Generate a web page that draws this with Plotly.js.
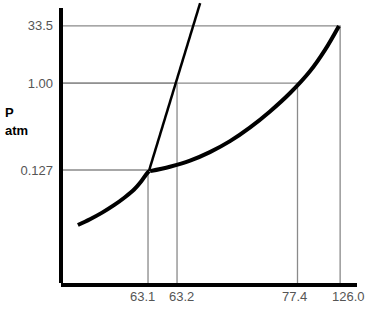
<!DOCTYPE html>
<html>
<head>
<meta charset="utf-8">
<script src="https://cdn.plot.ly/plotly-3.0.1.min.js"></script>
<style>html,body{margin:0;padding:0;background:#fff;}#chart{width:379px;height:318px;}</style>
</head>
<body>
<div id="chart"></div>
<script>
// Schematic (not-to-scale) phase diagram: positions in diagram units 0-100
const tempLabels = ['63.1', '63.2', '77.4', '126.0'];
const tempPos = [29.4, 39.2, 79.9, 94.3];
const presLabels = ['0.127', '1.00', '33.5'];
const presPos = [41.1, 72.7, 93.5];

// Special points: [temperature index, pressure index]
const guidePoints = [[0, 0], [1, 1], [2, 1], [3, 2]];

// Curves (schematic positions)
const sublimX = [5.7, 9.8, 13.9, 17.9, 21.6, 24.7, 27.0, 28.7, 29.7];
const sublimY = [21.1, 23.2, 25.6, 28.3, 31.2, 34.0, 36.8, 39.4, 40.7];
const meltX = [29.7, 47.0];
const meltY = [40.7, 101.8];
const vapX = [30.1, 36.8, 43.6, 50.3, 57.1, 63.9, 70.6, 77.4, 84.1, 89.2, 93.9];
const vapY = [40.7, 42.3, 44.5, 47.6, 51.6, 56.6, 62.4, 69.1, 77.0, 84.8, 93.5];

// label nudges (px) for the temperature labels
const tempLabelShift = [-6, 4.5, -3.5, 8];

const traces = [];
guidePoints.forEach(function (g) {
  const tx = tempPos[g[0]], py = presPos[g[1]];
  traces.push({x: [0, tx, tx], y: [py, py, 0], mode: 'lines', type: 'scatter',
    line: {color: '#8a8a8a', width: 1.3}, hoverinfo: 'skip', showlegend: false});
});
traces.push({x: sublimX, y: sublimY, mode: 'lines', type: 'scatter',
  line: {color: '#000', width: 4, shape: 'spline'}, showlegend: false});
traces.push({x: meltX, y: meltY, mode: 'lines', type: 'scatter',
  line: {color: '#000', width: 2.5}, showlegend: false});
traces.push({x: vapX, y: vapY, mode: 'lines', type: 'scatter',
  line: {color: '#000', width: 4, shape: 'spline'}, showlegend: false});

const annotations = tempLabels.map(function (t, i) {
  return {xref: 'x', yref: 'paper', x: tempPos[i], y: 0, xanchor: 'center', yanchor: 'middle',
    xshift: tempLabelShift[i], yshift: -13.5, text: t, showarrow: false,
    font: {size: 13, color: '#555'}};
});
annotations.push({xref: 'paper', yref: 'paper', x: -0.196, y: 0.605, xanchor: 'left', yanchor: 'middle',
  text: '<b>P</b>', showarrow: false, font: {size: 13, color: '#000'}});
annotations.push({xref: 'paper', yref: 'paper', x: -0.196, y: 0.541, xanchor: 'left', yanchor: 'middle',
  text: '<b>atm</b>', showarrow: false, font: {size: 13, color: '#000'}});

const layout = {
  width: 379, height: 318,
  margin: {l: 61, r: 22, t: 2, b: 35},
  paper_bgcolor: '#fff', plot_bgcolor: '#fff',
  showlegend: false,
  font: {family: 'Liberation Sans, Arial, sans-serif', color: '#555', size: 13},
  xaxis: {range: [0, 100], showgrid: false, zeroline: false,
    showline: true, linecolor: '#000', linewidth: 4,
    tickmode: 'array', tickvals: tempPos, ticktext: tempLabels,
    ticks: '', showticklabels: false},
  yaxis: {range: [0, 102.2], showgrid: false, zeroline: false, showline: false,
    tickmode: 'array', tickvals: presPos, ticktext: presLabels,
    ticks: '', ticklabelstandoff: 7, tickfont: {size: 13, color: '#555'}},
  shapes: [{type: 'line', xref: 'paper', yref: 'y', x0: 0, x1: 0, y0: -0.7, y1: 100,
    line: {color: '#000', width: 4}}],
  annotations: annotations
};

Plotly.newPlot('chart', traces, layout, {displayModeBar: false, staticPlot: true});
</script>
</body>
</html>
